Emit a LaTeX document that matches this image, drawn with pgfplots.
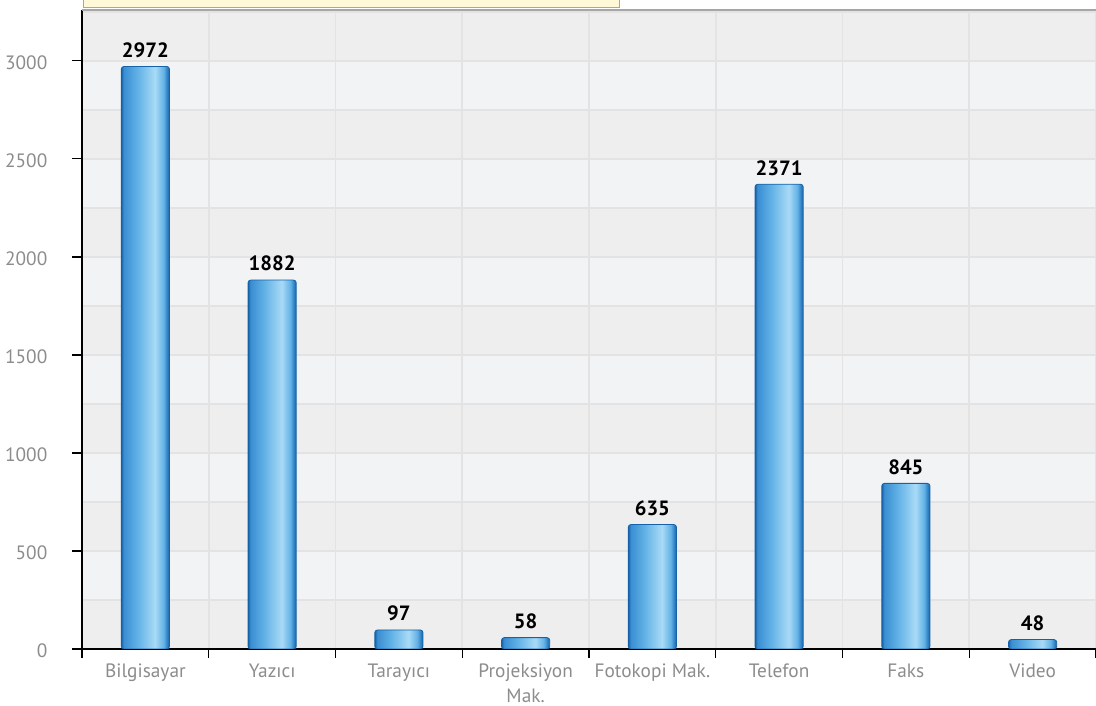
\documentclass[border=0pt]{standalone}
\usepackage{pgfplots}
\pgfplotsset{compat=1.18}
\usepackage{fontspec}
\setmainfont{PT Sans}

\definecolor{bandA}{HTML}{EEEEEE}
\definecolor{bandB}{HTML}{F2F3F5}
\definecolor{gridc}{HTML}{E3E3E3}
\definecolor{tickgray}{HTML}{8C8C8C}
\definecolor{boxyellow}{HTML}{FFF9D8}
\definecolor{bdark}{HTML}{1762A6}
\definecolor{bmid}{HTML}{3A8ED2}
\definecolor{bmid2}{HTML}{62B2E6}
\definecolor{blight}{HTML}{A9DAF6}
\definecolor{bedge}{HTML}{2C7CC2}

% bar body: dark edges, light band right of centre
\pgfdeclarehorizontalshading{barshade}{100bp}{color(0bp)=(bdark); color(25bp)=(bdark); color(27.5bp)=(bmid); color(42bp)=(bmid2); color(60bp)=(blight); color(69bp)=(bmid2); color(73bp)=(bedge); color(75bp)=(bdark); color(100bp)=(bdark)}

% alternating 250-unit bands behind the plot (0..3260 mapped to 25bp..75bp)
\pgfdeclareverticalshading{bands}{100bp}{color(0bp)=(bandA); color(28.834bp)=(bandA);
 color(28.835bp)=(bandB); color(32.669bp)=(bandB); color(32.670bp)=(bandA); color(36.503bp)=(bandA);
 color(36.504bp)=(bandB); color(40.337bp)=(bandB); color(40.338bp)=(bandA); color(44.172bp)=(bandA);
 color(44.173bp)=(bandB); color(48.006bp)=(bandB); color(48.007bp)=(bandA); color(51.840bp)=(bandA);
 color(51.841bp)=(bandB); color(55.675bp)=(bandB); color(55.676bp)=(bandA); color(59.509bp)=(bandA);
 color(59.510bp)=(bandB); color(63.344bp)=(bandB); color(63.345bp)=(bandA); color(67.178bp)=(bandA);
 color(67.179bp)=(bandB); color(71.012bp)=(bandB); color(71.013bp)=(bandA); color(100bp)=(bandA)}

\pgfplotsset{
  barstyle/.style={shading=barshade, draw=bdark, line width=0.6pt, rounded corners=2pt, bar shift=0pt},
}

\begin{document}
\begin{tikzpicture}
\useasboundingbox (-61.5pt,-42.75pt) rectangle (760.5pt,486.75pt);
\begin{axis}[
    at={(0pt,0pt)}, anchor=south west,
    scale only axis, width=760.5pt, height=479.25pt,
    xmin=-0.5, xmax=7.5, ymin=0, ymax=3260,
    axis background/.style={shading=bands},
    axis x line*=bottom, axis y line*=left,
    axis line style={-, black, line width=0.8pt},
    xtick={0,1,2,3,4,5,6,7},
    xticklabels={Bilgisayar, Yazıcı, Tarayıcı, Projeksiyon\\Mak., Fotokopi Mak., Telefon, Faks, Video},
    minor xtick={-0.5,0.5,1.5,2.5,3.5,4.5,5.5,6.5,7.5},
    ytick={0,500,1000,1500,2000,2500,3000},
    minor ytick={250,750,1250,1750,2250,2750,3250},
    xmajorgrids=false, xminorgrids=true,
    ymajorgrids=true, yminorgrids=true,
    grid style={draw=gridc, line width=1.2pt},
    minor grid style={draw=gridc, line width=1.2pt},
    tick align=outside,
    major tick style={black, line width=0.8pt},
    minor tick style={black, line width=0.8pt},
    major x tick style={draw=none},
    minor y tick style={draw=none},
    major tick length=7.5pt, minor tick length=6.5pt,
    xticklabel style={font=\fontsize{14.5}{19}\selectfont, text=tickgray, align=center},
    yticklabel style={font=\fontsize{14.5}{17}\selectfont, text=tickgray, xshift=-15pt, yshift=-1pt},
    /pgf/number format/assume math mode=true,
    /pgf/number format/1000 sep={},
    scaled y ticks=false,
    ybar, bar width=0.38,
    nodes near coords,
    every node near coord/.append style={font=\bfseries\fontsize{15.5}{17}\selectfont, text=black, yshift=3pt},
]
\addplot[barstyle] coordinates {(0,2972)};
\addplot[barstyle] coordinates {(1,1882)};
\addplot[barstyle] coordinates {(2,97)};
\addplot[barstyle] coordinates {(3,58)};
\addplot[barstyle] coordinates {(4,635)};
\addplot[barstyle] coordinates {(5,2371)};
\addplot[barstyle] coordinates {(6,845)};
\addplot[barstyle] coordinates {(7,48)};
\end{axis}
\draw[gray!70, line width=0.8pt] (0pt,479.25pt) -- (760.5pt,479.25pt);
\draw[fill=boxyellow, draw=gray!70, line width=0.6pt] (0.75pt,481pt) rectangle (402.75pt,495pt);
\end{tikzpicture}
\end{document}
